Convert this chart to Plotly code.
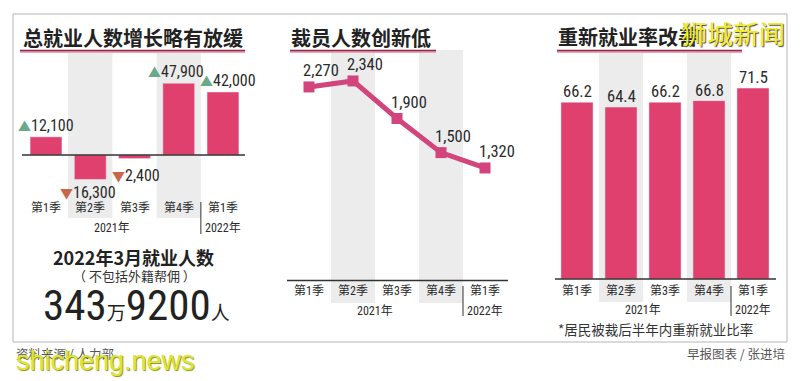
import plotly.graph_objects as go

W, H = 800, 381

# ---------------- data ----------------
quarters = ["第1季", "第2季", "第3季", "第4季", "第1季"]
years = ["2021年", "2022年"]
emp_change = [12100, -16300, -2400, 47900, 42000]
emp_labels = ["12,100", "16,300", "2,400", "47,900", "42,000"]
retrench = [2270, 2340, 1900, 1500, 1320]
retrench_labels = ["2,270", "2,340", "1,900", "1,500", "1,320"]
reemploy = [66.2, 64.4, 66.2, 66.8, 71.5]
reemploy_labels = ["66.2", "64.4", "66.2", "66.8", "71.5"]
titles = ["总就业人数增长略有放缓", "裁员人数创新低", "重新就业率改善"]

xs = list(range(len(quarters)))

def PX(x):
    return x / W

def PY(y):
    return 1 - y / H

BAR = "#e0406e"
LINE = "#d2457c"
TXT = "#2b2b2b"
GREY = "#ececec"
CJK = "Noto Sans CJK SC"
NARROW = "Roboto Condensed, Noto Sans CJK SC, sans-serif"

fig = go.Figure()

fig.add_trace(go.Bar(x=xs, y=emp_change, marker_color=BAR, width=0.72,
                     xaxis="x", yaxis="y", showlegend=False, hoverinfo="skip"))
fig.add_trace(go.Scatter(x=xs, y=retrench, mode="lines+markers",
                         line=dict(color=LINE, width=5),
                         marker=dict(symbol="square", size=11, color=LINE),
                         xaxis="x2", yaxis="y2", showlegend=False, hoverinfo="skip"))
fig.add_trace(go.Bar(x=xs, y=reemploy, marker_color=BAR, width=0.73,
                     xaxis="x3", yaxis="y3", showlegend=False, hoverinfo="skip"))

ax = dict(visible=False, fixedrange=True)
fig.update_layout(
    width=W, height=H, margin=dict(l=0, r=0, t=0, b=0),
    paper_bgcolor="white", plot_bgcolor="rgba(0,0,0,0)",
    xaxis=dict(ax, domain=[PX(23.9), PX(245.1)], range=[-0.5, 4.5], anchor="y"),
    yaxis=dict(ax, domain=[PY(218), PY(53)], range=[-42000, 68000], anchor="x"),
    xaxis2=dict(ax, domain=[PX(287), PX(507)], range=[-0.5, 4.5], anchor="y2"),
    yaxis2=dict(ax, domain=[PY(303), PY(50)], range=[-263, 2703], anchor="x2"),
    xaxis3=dict(ax, domain=[PX(555), PX(775)], range=[-0.5, 4.5], anchor="y3"),
    yaxis3=dict(ax, domain=[PY(303), PY(50)], range=[-8.99, 85.77], anchor="x3"),
)

shapes = []
# outer frame
shapes.append(dict(type="rect", xref="paper", yref="paper", x0=PX(13), x1=PX(787),
                   y0=PY(342), y1=PY(14), line=dict(color="#b5b5b5", width=1), layer="below"))
# grey columns
for xr, y0, y1 in [("x", 218, 53), ("x2", 303, 50), ("x3", 302, 52)]:
    for c in (1, 3):
        shapes.append(dict(type="rect", xref=xr, yref="paper", x0=c - 0.5, x1=c + 0.5,
                           y0=PY(y0), y1=PY(y1), fillcolor=GREY, line=dict(width=0), layer="below"))
# baselines
for yr, a, b in [("y", 22, 245), ("y2", 287, 508), ("y3", 555, 776)]:
    shapes.append(dict(type="line", xref="paper", yref=yr, x0=PX(a), x1=PX(b), y0=0, y1=0,
                       line=dict(color="#333", width=1.5)))
# year separators
for xr, a, b in [("x", 202, 234), ("x2", 286, 316), ("x3", 286, 316)]:
    shapes.append(dict(type="line", xref=xr, yref="paper", x0=3.5, x1=3.5, y0=PY(b), y1=PY(a),
                       line=dict(color="#333", width=1)))
# title underlines
for a, b in [(20, 245), (290, 436), (557, 742)]:
    shapes.append(dict(type="line", xref="paper", yref="paper", x0=PX(a), x1=PX(b),
                       y0=PY(51.5), y1=PY(51.5), line=dict(color="#e9a5b8", width=3)))
    shapes.append(dict(type="line", xref="paper", yref="paper", x0=PX(a), x1=PX(b),
                       y0=PY(50.5), y1=PY(50.5), line=dict(color="#8c2b47", width=1.5)))
fig.update_layout(shapes=shapes)

ann = []

def note(text, x, y, size=12, color=TXT, family=CJK, xanchor="center", yanchor="middle",
         xref="paper", yref="paper", xshift=0, yshift=0, shadow=None):
    f = dict(size=size, color=color, family=family)
    if shadow:
        f["shadow"] = shadow
    ann.append(dict(text=text, x=x, y=y, xref=xref, yref=yref, showarrow=False,
                    xanchor=xanchor, yanchor=yanchor, xshift=xshift, yshift=yshift, font=f))

# titles
for t, x0, y in zip(titles, [21, 289, 556], [37, 37, 36]):
    note("<b>" + t + "</b>", PX(x0), PY(y), size=20, color="#222", xanchor="left")

UP = '<span style="color:#6aa98a;font-size:13px">▲</span>'
DN = '<span style="color:#c8684a;font-size:13px">▼</span>'

# left panel value labels
shifts = [(0, 0), (-2, -2), (1, -5), (-3, 0), (5, 0)]
for i, (v, lab) in enumerate(zip(emp_change, emp_labels)):
    txt = (UP if v > 0 else DN) + lab
    note(txt, i, v, size=16, family=NARROW, xref="x", yref="y",
         yanchor="bottom" if v > 0 else "top", xshift=shifts[i][0], yshift=shifts[i][1])

# middle panel value labels
for i, lab in enumerate(retrench_labels):
    note(lab, i, retrench[i], size=16.5, family=NARROW, xref="x2", yref="y2",
         xshift=12, yshift=16)

# right panel value labels
for i, lab in enumerate(reemploy_labels):
    note(lab, i, reemploy[i], size=16.5, family=NARROW, xref="x3", yref="y3",
         yanchor="bottom", yshift=-1)

# quarter ticks and years
for xr, ty, yy in [("x", 208, 228), ("x2", 291, 311), ("x3", 291, 310)]:
    for i, q in enumerate(quarters):
        note(q, i, PY(ty), size=12, xref=xr, family=NARROW)
    note(years[0], 1.5, PY(yy), size=12, xref=xr, family=NARROW)
    note(years[1], 4, PY(yy), size=12, xref=xr, family=NARROW)

# left summary block
note("<b>2022年3月就业人数</b>", PX(133), PY(257), size=18, color="#222")
note("（ 不包括外籍帮佣 ）", PX(134), PY(275), size=13, color="#333")
big = ('<span style="font-size:43px">343</span><span style="font-size:19px">万</span>'
       '<span style="font-size:43px">9200</span><span style="font-size:19px">人</span>')
note(big, PX(136), PY(305), size=43, family=NARROW, color="#222")

# footnote / sources
note("*居民被裁后半年内重新就业比率", PX(556), PY(329), size=13.5, color="#333", xanchor="left")
note("资料来源 / 人力部", PX(14), PY(353), size=12.5, color="#555", xanchor="left")
note("早报图表 / 张进培", PX(787), PY(353), size=12.5, color="#555", xanchor="right")

# watermarks
note("狮城新闻", PX(733), PY(32), size=26, color="#f2ee2a", shadow="1px 1px 1px #444")
note("shicheng.news", PX(14), PY(361), size=27, color="#dfe534", xanchor="left",
     family="Arial, Liberation Sans, sans-serif", shadow="1px 1px 1px #8d8f25")

fig.update_layout(annotations=ann)
fig.write_html("out.html", config={"displayModeBar": False},
               post_script="document.body.style.margin='0';")
